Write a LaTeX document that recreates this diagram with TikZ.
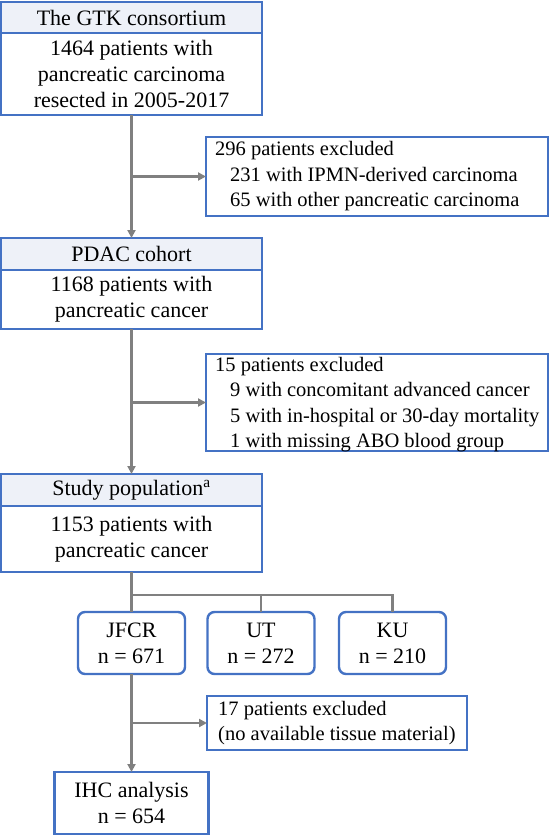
\documentclass[tikz,border=0pt]{standalone}
\usepackage{fontspec}
\setmainfont{Liberation Serif}
\usetikzlibrary{arrows.meta,positioning,calc}
\definecolor{bx}{RGB}{68,114,196}
\definecolor{hd}{RGB}{238,241,248}
\definecolor{lc}{RGB}{128,128,128}
\tikzset{
  base/.style={rectangle,draw=bx,line width=2.4pt,outer sep=0pt,inner sep=0pt,
    font=\fontsize{22}{26}\selectfont,align=center},
  hn/.style={base,fill=hd,minimum width=261pt,minimum height=#1},
  hn/.default=32pt,
  cn/.style={base,fill=white,minimum width=261pt,minimum height=#1},
  xn/.style={base,fill=white,minimum width=#1},
  xn/.default=342pt,
  xt/.style={align=left,inner sep=0pt,font=\fontsize{20.5}{25.5}\selectfont},
  sn/.style={base,rounded corners=7pt,fill=white,minimum width=107pt,minimum height=62pt},
  ln/.style={line width=2.4pt,color=lc},
  arr/.style={ln,-{Triangle[length=8pt,width=8pt]}},
}
\newcommand{\ind}{\hspace*{15pt}}

\begin{document}
\begin{tikzpicture}[x=1pt,y=1pt]
    \useasboundingbox (0,0) rectangle (550,-835);
    % Main column
    \node[hn=31pt] (gtkh) at (131.5,-17.5) {The GTK consortium};
    \node[cn=82pt,below=0pt of gtkh] (gtkb)
      {1464 patients with\\pancreatic carcinoma\\resected in 2005-2017};
    \node[hn] (pdach) at (131.5,-254) {PDAC cohort};
    \node[cn=59pt,below=0pt of pdach] (pdacb)
      {1168 patients with\\pancreatic cancer};
    \node[hn] (studyh) at (131.5,-490) {Study population\textsuperscript{a}};
    \node[cn=66pt,below=0pt of studyh] (studyb)
      {1153 patients with\\pancreatic cancer};

    % Exclusions
    \node[xn,minimum height=79pt] (exa) at (377,-176.5) {};
    \node[xt,right=9pt of exa.west] (exat)
      {296 patients excluded\\\ind 231 with IPMN-derived carcinoma\\\ind 65 with other pancreatic carcinoma};
    \node[xn,minimum height=97pt] (exb) at (377,-402.5) {};
    \node[xt,right=9pt of exb.west,yshift=-2pt] (exbt)
      {15 patients excluded\\\ind 9 with concomitant advanced cancer\\\ind 5 with in-hospital or 30-day mortality\\\ind 1 with missing ABO blood group};
    \node[xn=260pt,minimum height=54pt] (exc) at (337,-723) {};
    \node[xt,right=11pt of exc.west] (exct)
      {17 patients excluded\\(no available tissue material)};

    % Institutions
    \node[sn] (jfcr) at (131.5,-643) {JFCR\\n = 671};
    \node[sn] (ut) at (261,-643) {UT\\n = 272};
    \node[sn] (ku) at (392.5,-643) {KU\\n = 210};
    \node[base,fill=white,minimum width=154pt,minimum height=62pt] (ihc) at (131.5,-803)
      {IHC analysis\\n = 654};

    \coordinate (br) at (0,-595);

    \draw[arr] (gtkb.south)--(pdach.north);
    \draw[arr] (gtkb.south |- exa.west)--(exa.west);
    \draw[arr] (pdacb.south)--(studyh.north);
    \draw[arr] (pdacb.south |- exb.west)--(exb.west);
    \draw[ln] (studyb.south)--(jfcr.north);
    \draw[ln] (jfcr.north |- br)-|(ut.north);
    \draw[ln] (ut.north |- br)-|(ku.north);
    \draw[arr] (jfcr.south)--(ihc.north);
    \draw[arr] (jfcr.south |- exc.west)--(exc.west);
  \end{tikzpicture}
\end{document}
